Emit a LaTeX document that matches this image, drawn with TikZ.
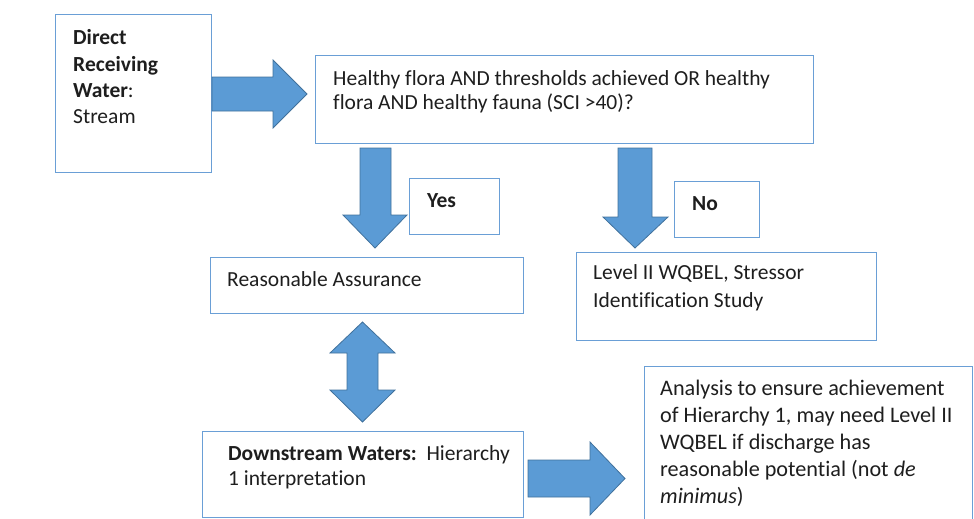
\documentclass[tikz,border=0pt]{standalone}
\usepackage{fontspec}
\setmainfont[Ligatures=NoCommon]{Carlito}
\definecolor{boxline}{HTML}{6A9FD6}
\definecolor{arrowfill}{HTML}{5B9BD5}
\definecolor{arrowline}{HTML}{41719C}
\definecolor{inktext}{HTML}{1E1E1E}
\tikzset{
  panel/.style={draw=boxline, line width=1.4pt, fill=white, inner sep=0pt, anchor=north west},
  blockarrow/.style={fill=arrowfill, draw=arrowline, line width=0.8pt, line join=miter},
  % multi-line labels are placed by the baseline of their last line
  label/.style={inner sep=0pt, anchor=base west, align=left, text=inktext,
    font=\fontsize{21.5}{25}\selectfont},
}
\begin{document}
\begin{tikzpicture}[x=1pt, y=-1pt]
\useasboundingbox (0,0) rectangle (974,519);
\clip (0,0) rectangle (974,519);

% boxes
\node[panel, minimum width=156pt, minimum height=158pt] (src) at (55,14) {};
\node[panel, minimum width=498pt, minimum height=88pt] (test) at (315,55) {};
\node[panel, minimum width=90pt, minimum height=56pt] (yes) at (409,178) {};
\node[panel, minimum width=85pt, minimum height=56pt] (no) at (674,181) {};
\node[panel, minimum width=313pt, minimum height=56pt] (assure) at (210,257) {};
\node[panel, minimum width=300pt, minimum height=88pt] (level) at (576,252) {};
\node[panel, minimum width=321pt, minimum height=86pt] (down) at (202,431) {};
\node[panel, minimum width=328pt, minimum height=180pt] (anal) at (644,366) {};

% texts
\node[label, font=\fontsize{21.5}{26.2}\selectfont] (srct) at (73,123.5)
  {\textbf{Direct}\\\textbf{Receiving}\\\textbf{Water}:\\Stream};
\node[label, font=\fontsize{21.5}{24}\selectfont] (testt) at (333,109.5)
  {Healthy flora AND thresholds achieved OR healthy\\flora AND healthy fauna (SCI >40)?};
\node[label] (yest) at (427,207.5) {\textbf{Yes}};
\node[label] (not) at (692,210) {\textbf{No}};
\node[label] (assuret) at (227,286) {Reasonable Assurance};
\node[label, font=\fontsize{21.5}{28}\selectfont] (levelt) at (593,307)
  {Level II WQBEL, Stressor\\Identification Study};
\node[label] (downt) at (228,485)
  {\textbf{Downstream Waters:}\ \ Hierarchy\\1 interpretation};
\node[label, font=\fontsize{22.2}{27}\selectfont] (analt) at (660,503)
  {Analysis to ensure achievement\\of Hierarchy 1, may need Level II\\WQBEL if discharge has\\reasonable potential (not \textit{de}\\\textit{minimus})};

% block arrows
\draw[blockarrow] (212,77) -- (273,77) -- (273,60) -- (307,94) -- (273,128) -- (273,111) -- (212,111) -- cycle;
\draw[blockarrow] (360,148) -- (391,148) -- (391,215) -- (407,215) -- (375,248) -- (343,215) -- (360,215) -- cycle;
\draw[blockarrow] (618,148) -- (652,148) -- (652,217) -- (668,217) -- (635,248) -- (603,217) -- (618,217) -- cycle;
\draw[blockarrow] (362.5,322) -- (395,353) -- (378,353) -- (378,390) -- (395,390) -- (362.5,422)
  -- (330,390) -- (347,390) -- (347,353) -- (330,353) -- cycle;
\draw[blockarrow] (528,460) -- (590,460) -- (590,442) -- (625,478.5) -- (590,515) -- (590,497) -- (528,497) -- cycle;
\end{tikzpicture}
\end{document}
